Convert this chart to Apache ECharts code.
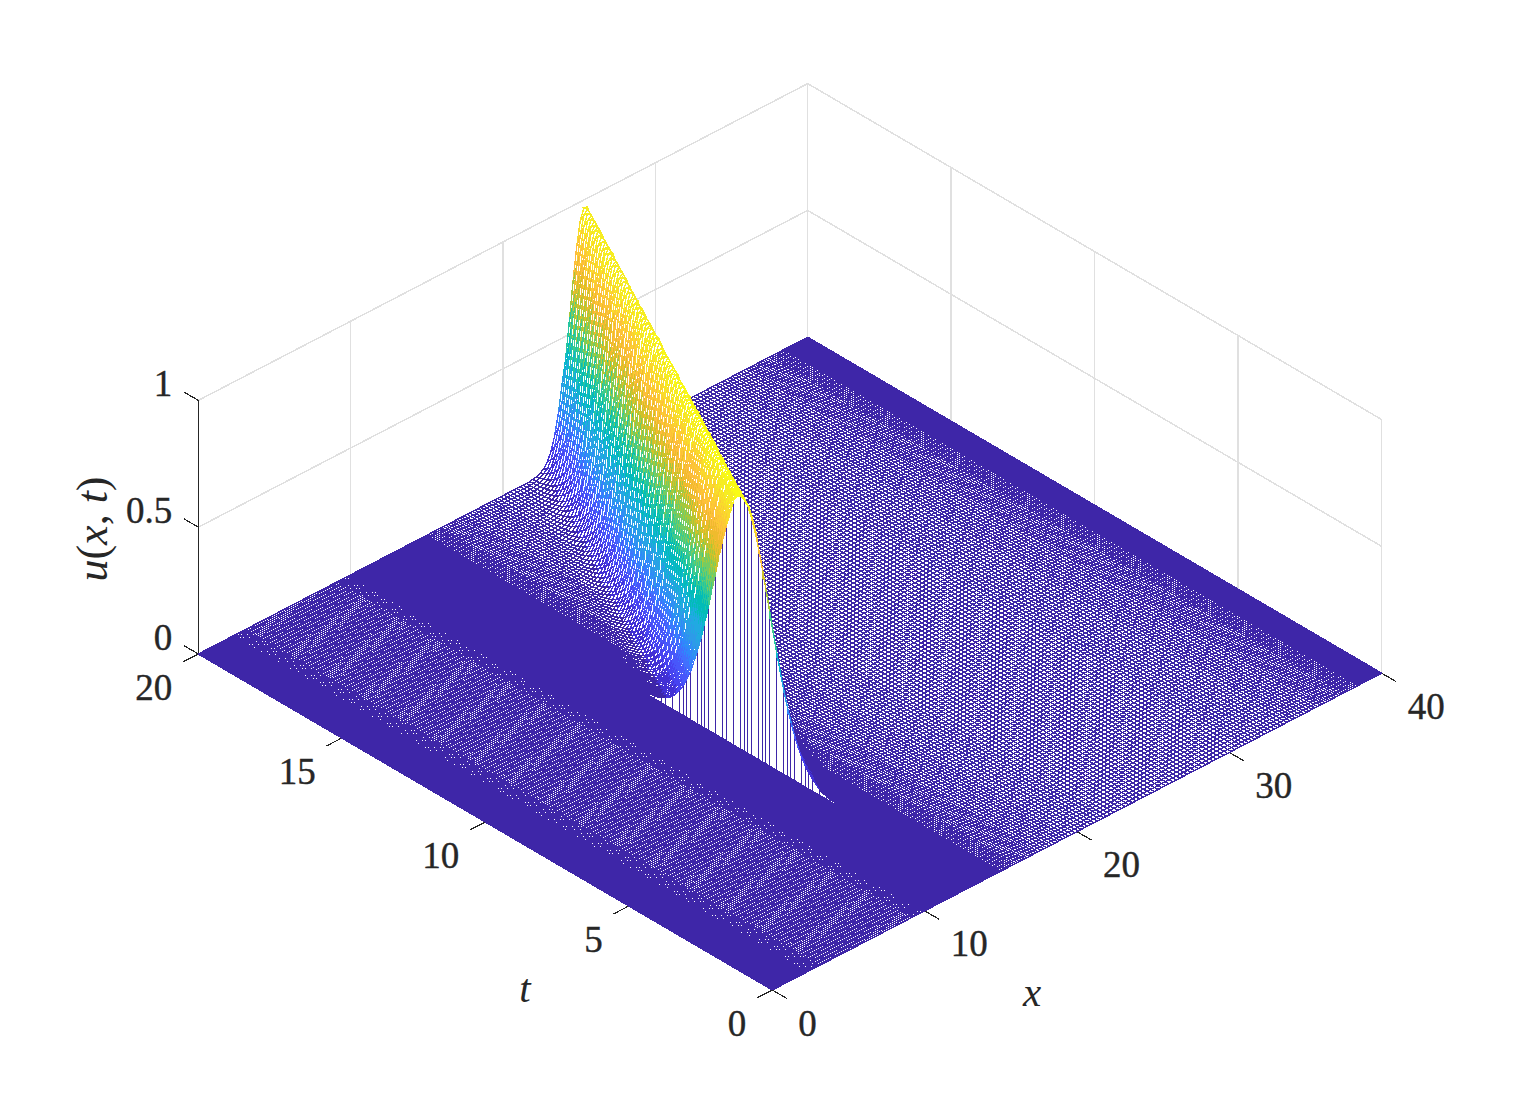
<!DOCTYPE html>
<html><head><meta charset="utf-8">
<style>html,body{margin:0;padding:0;background:#fff}#c{width:1528px;height:1112px}
path{shape-rendering:crispEdges}</style>
<script src="https://cdn.jsdelivr.net/npm/echarts@6/dist/echarts.min.js"></script>
</head><body><div id="c"></div>
<script>
// ---- values ----
const xTicks = [0, 10, 20, 30, 40];
const tTicks = [0, 5, 10, 15, 20];
const uTicks = [0, 0.5, 1];
const uTickLabels = ['0', '0.5', '1'];
const tStep = 0.125;
const tEnd = 20;
// density of the constant-x mesh lines along x: [up to, step], for each side of the jump
const xZonesLeft = [[0.5, 0.03], [1.5, 0.06], [2.3, 0.085], [3.2, 0.105], [9.2, 0.125], [9.9, 0.105], [10.6, 0.08], [13.25, 0.05]];
const xZonesRight = [[13.75, 0.045], [14.25, 0.07], [15, 0.095], [16, 0.12], [17.5, 0.15], [19.5, 0.18], [22, 0.21], [31, 0.24],
  [34, 0.21], [36, 0.18], [37.5, 0.15], [38.5, 0.12], [39.2, 0.095], [39.6, 0.07], [40, 0.045]];
const interfaceX = 13.25;      // surface jumps here
const crestLine = [[8.1, 13.25], [20, 25.4]];  // [t, x] of the crest at both ends of the ridge
const pulseStep = 0.0625;
const pulseHeights = [1,.998,.992,.983,.969,.952,.932,.909,.883,.854,.823,.79,.755,.719,.682,.644,.607,.569,.531,.494,.458,.423,.389,.356,.325,.295,.267,.241,.216,.193,.172,.153,.135,.119,.104,.091,.079,.069,.06,.051,.043,.037,.031,.027,.022,.019,.016,.013,.011,.009,.007,.006,.005,.004,.003,.003,.002];
// crest height per whole t
const crestByT = [1,1,1,1,1,1,1,1,.995,.993,.991,.989,.987,.985,.983,.981,.979,.977,.975,.973,.972];
const parula = ['#3e26a8','#4230d4','#4743f0','#4857fa','#4170fe','#2f88fb','#2d9be8','#21a9e2','#0eb5d0','#02bcb7','#24c6a0','#3fcb8b','#74cc63','#a5c83c','#cfc22a','#efbb2d','#fdbd3c','#fccb33','#f9dc2a','#f6ed22','#f9fb15'];
const floorColor = '#3e26a8', gridColor = '#e0e0e0', axisColor = '#262626', textColor = '#262626';
const meshWidth = 1.42;

// ---- mesh coordinates ----
function meshLines(start, zones) {
  const out = [start];
  let x = start;
  zones.forEach(([end, step]) => {
    while (x + step < end - 1e-9) { x += step; out.push(+x.toFixed(5)); }
  });
  out.push(zones[zones.length - 1][0]);
  return out;
}
const xLeft = meshLines(0, xZonesLeft);
const xRight = meshLines(interfaceX, xZonesRight);
const xGrid = xLeft.concat(xRight.slice(1));
const tGrid = [];
for (let k = 0; k * tStep <= tEnd; k++) tGrid.push(k * tStep);

const crestSpeed = (crestLine[1][1] - crestLine[0][1]) / (crestLine[1][0] - crestLine[0][0]);
function height(x, t) {
  const c = crestLine[0][1] + (t - crestLine[0][0]) * crestSpeed;
  const k = Math.round(Math.abs(x - c) / pulseStep);
  if (k >= pulseHeights.length) return 0;
  return pulseHeights[k] * crestByT[Math.floor(t)];
}
function colorOf(u) { return parula[Math.max(0, Math.min(parula.length - 1, Math.round(u * (parula.length - 1))))]; }

// viewing plane of the 3-D box
const O = [772.3, 990], EX = [15.235, -7.92], ET = [-28.7, -16.8], EU = -253.6;
const proj = (x, t, u) => [O[0] + EX[0] * x + ET[0] * t, O[1] + EX[1] * x + ET[1] * t + EU * u];

// ---- rows for the series ----
const wallRows = [];
const addWall = (a, b, c, d, e, f, kind) => wallRows.push([a, b, c, d, e, f, kind]);
uTicks.slice(1).forEach(u => { addWall(0, 20, u, 40, 20, u, 0); addWall(40, 20, u, 40, 0, u, 0); });
xTicks.forEach(x => addWall(x, 20, 0, x, 20, 1, x === 0 ? 1 : 0));
tTicks.forEach(t => { if (t < 20) addWall(40, t, 0, 40, t, 1, 0); });
xTicks.forEach(x => addWall(x, 0, 0, x, -0.5, 0, 1));
tTicks.forEach(t => addWall(0, t, 0, -1, t, 0, 1));
uTicks.forEach(u => addWall(0, 20, u, 0, 20.5, u, 1));

const floorRows = [];
xGrid.forEach(x => floorRows.push([x, 0, x, 20]));
tGrid.forEach(t => floorRows.push([0, t, 40, t]));

const surfRows = [];
for (let i = tGrid.length - 2; i >= 0; i--) {
  const t0 = tGrid[i], t1 = tGrid[i + 1];
  for (let j = xRight.length - 2; j >= 0; j--) {
    const x0 = xRight[j], x1 = xRight[j + 1];
    const a = height(x0, t0), b = height(x1, t0), c = height(x1, t1), d = height(x0, t1);
    if (a + b + c + d > 0) surfRows.push([x0, x1, t0, t1, a, b, c, d, 0]);
  }
  const a = height(interfaceX, t0), d = height(interfaceX, t1);
  if (a + d > 0) surfRows.push([interfaceX, interfaceX, t0, t1, 0, a, d, 0, 1]);
}

const labelRows = [];
xTicks.forEach(x => { const p = proj(x, 0, 0); labelRows.push([String(x), p[0] + 26, p[1] + 33, 'left']); });
tTicks.forEach(t => { const p = proj(0, t, 0); labelRows.push([String(t), p[0] - 26, p[1] + 33, 'right']); });
uTicks.forEach((u, k) => { const p = proj(0, 20, u); labelRows.push([uTickLabels[k], p[0] + -26, p[1] - 17, 'right']); });
const nameRows = [['t', 525, 988], ['x', 1032, 992], ['u', 92, 529]];

const chart = echarts.init(document.getElementById('c'), null, { renderer: 'svg' });
const pts = (api, list) => list.map(v => api.coord(v));
chart.setOption({
  animation: false,
  backgroundColor: '#fff',
  grid: { left: 0, top: 0, width: 1528, height: 1112 },
  xAxis: { type: 'value', min: 0, max: 1528, show: false },
  yAxis: { type: 'value', min: 0, max: 1112, inverse: true, show: false },
  series: [
    { type: 'custom', coordinateSystem: 'cartesian2d', silent: true, progressive: 0, clip: false, data: wallRows,
      renderItem: (p, api) => {
        const r = wallRows[p.dataIndex];
        const [a, b] = pts(api, [proj(r[0], r[1], r[2]), proj(r[3], r[4], r[5])]);
        return { type: 'line', shape: { x1: a[0], y1: a[1], x2: b[0], y2: b[1] },
          style: { stroke: r[6] ? axisColor : gridColor, lineWidth: r[6] ? 1.2 : 1.5, fill: null } };
      } },
    { type: 'custom', coordinateSystem: 'cartesian2d', silent: true, progressive: 0, clip: false, data: floorRows,
      renderItem: (p, api) => {
        const r = floorRows[p.dataIndex];
        const [a, b] = pts(api, [proj(r[0], r[1], 0), proj(r[2], r[3], 0)]);
        return { type: 'line', shape: { x1: a[0], y1: a[1], x2: b[0], y2: b[1] },
          style: { stroke: floorColor, lineWidth: meshWidth, fill: null } };
      } },
    { type: 'custom', coordinateSystem: 'cartesian2d', silent: true, progressive: 0, clip: false, data: surfRows,
      renderItem: (p, api) => {
        const r = surfRows[p.dataIndex];
        const [x0, x1, t0, t1, a, b, c, d, kind] = r;
        const q = pts(api, [proj(x0, t0, a), proj(x1, t0, b), proj(x1, t1, c), proj(x0, t1, d)]);
        if (kind === 1) {
          return { type: 'group', children: [
            { type: 'polygon', shape: { points: q }, style: { fill: '#fff', stroke: null } },
            { type: 'line', shape: { x1: q[0][0], y1: q[0][1], x2: q[1][0], y2: q[1][1] },
              style: { stroke: floorColor, lineWidth: meshWidth, fill: null } },
            { type: 'line', shape: { x1: q[1][0], y1: q[1][1], x2: q[2][0], y2: q[2][1] },
              style: { stroke: colorOf((b + c) / 2), lineWidth: meshWidth, fill: null } }
          ] };
        }
        return { type: 'polygon', shape: { points: q },
          style: { fill: '#fff', stroke: colorOf((a + b + c + d) / 4), lineWidth: meshWidth } };
      } },
    { type: 'custom', coordinateSystem: 'cartesian2d', silent: true, progressive: 0, clip: false, data: labelRows,
      renderItem: (p, api) => {
        const r = labelRows[p.dataIndex];
        const c = api.coord([r[1], r[2]]);
        return { type: 'text', x: c[0], y: c[1], style: { text: r[0], fill: textColor, stroke: textColor, lineWidth: 0.4, align: r[3], verticalAlign: 'middle',
          font: '37px "Liberation Serif"' } };
      } },
    { type: 'custom', coordinateSystem: 'cartesian2d', silent: true, progressive: 0, clip: false, data: nameRows.map((r, k) => [k, r[1], r[2]]),
      renderItem: (p, api) => {
        const r = nameRows[p.dataIndex];
        const c = api.coord([r[1], r[2]]);
        if (r[0] === 'u') {
          return { type: 'text', x: c[0], y: c[1], rotation: Math.PI / 2, style: {
            text: '{i|u}{n|(}{i|x}{n|, }{i|t}{n|)}', align: 'center', verticalAlign: 'middle',
            rich: { i: { font: 'italic 44px "Liberation Serif"', fill: textColor },
                    n: { font: '44px "Liberation Serif"', fill: textColor } } } };
        }
        return { type: 'text', x: c[0], y: c[1], style: { text: r[0], fill: textColor, align: 'center', verticalAlign: 'middle',
          font: 'italic 41px "Liberation Serif"' } };
      } }
  ]
});
</script></body></html>
